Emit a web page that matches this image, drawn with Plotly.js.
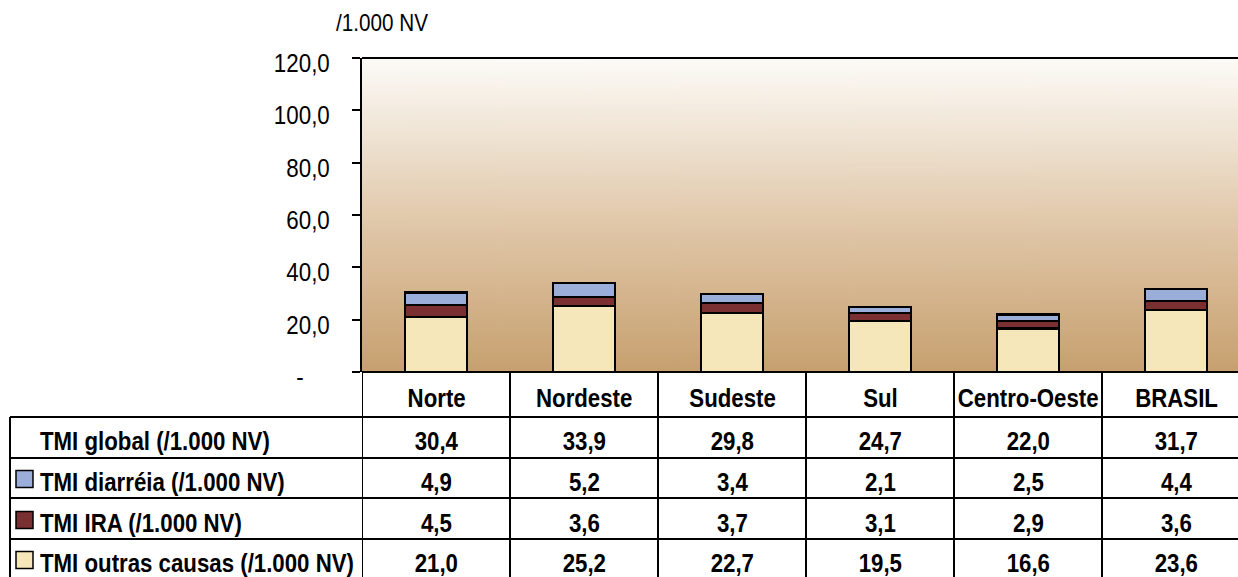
<!DOCTYPE html>
<html><head><meta charset="utf-8">
<script src="https://cdn.plot.ly/plotly-3.0.1.min.js"></script>
<style>html,body{margin:0;padding:0;overflow:hidden;background:#fff}</style>
</head><body><div id="chart" style="width:1250px;height:577px"></div>
<script>
const categories = ['Norte','Nordeste','Sudeste','Sul','Centro-Oeste','BRASIL'];
const tmiGlobal = [30.4, 33.9, 29.8, 24.7, 22.0, 31.7];
const tmiDiarreia = [4.9, 5.2, 3.4, 2.1, 2.5, 4.4];
const tmiIRA = [4.5, 3.6, 3.7, 3.1, 2.9, 3.6];
const tmiOutras = [21.0, 25.2, 22.7, 19.5, 16.6, 23.6];
const globalName = 'TMI global (/1.000 NV)';
const diarreiaName = 'TMI diarréia (/1.000 NV)';
const iraName = 'TMI IRA (/1.000 NV)';
const outrasName = 'TMI outras causas (/1.000 NV)';
const yTickVals = [0, 20, 40, 60, 80, 100, 120];
const yTickText = ['-', '20,0', '40,0', '60,0', '80,0', '100,0', '120,0'];
const unitLabel = '/1.000 NV';

const colDiarreia = '#9aaed9';
const colIRA = '#7a2f30';
const colOutras = '#f6e7bb';

const W = 1250, H = 577, ML = 362, MT = 58, MB = 205;
const PW = W - ML, PH = H - MT - MB;
const xp = px => (px - ML) / PW;
const yp = py => (MT + PH - py) / PH;

// gradient background image
const cv = document.createElement('canvas');
cv.width = 10; cv.height = 300;
const ctx = cv.getContext('2d');
const g = ctx.createLinearGradient(0, 0, 0, 300);
g.addColorStop(0, '#fdfbf8');
g.addColorStop(0.25, '#efe3d3');
g.addColorStop(0.5, '#e2caad');
g.addColorStop(0.75, '#d5b58e');
g.addColorStop(1, '#c6a06f');
ctx.fillStyle = g; ctx.fillRect(0, 0, 10, 300);
const bgURL = cv.toDataURL();

const idx = categories.map((c, i) => i);
const fmt = v => v.toFixed(1).replace('.', ',');
const FONT = 'Liberation Sans, Arial, sans-serif';
const TF = {family: FONT, size: 25, color: '#000', weight: 'bold'};

function barTrace(vals, name, color) {
  return {type: 'bar', x: idx, y: vals, name: name,
    marker: {color: color, line: {color: '#000', width: 2.2}},
    hoverinfo: 'skip'};
}
const traces = [
  barTrace(tmiOutras, outrasName, colOutras),
  barTrace(tmiIRA, iraName, colIRA),
  barTrace(tmiDiarreia, diarreiaName, colDiarreia)
];

const rowTops = [417, 458, 498, 539];
const rowText = [441, 482, 523, 563];
const rowNames = [globalName, diarreiaName, iraName, outrasName];
const rowVals = [tmiGlobal, tmiDiarreia, tmiIRA, tmiOutras];
const rowBoxes = [null, colDiarreia, colIRA, colOutras];

const shapes = [];
const ln = {color: '#000', width: 2};
shapes.push({type: 'line', xref: 'paper', yref: 'paper', x0: 0, x1: 1, y0: 1, y1: 1, line: ln});
shapes.push({type: 'line', xref: 'paper', yref: 'paper', x0: 0, x1: 1, y0: 0, y1: 0, line: ln});
for (let i = 0; i <= categories.length; i++) {
  shapes.push({type: 'line', xref: 'x', yref: 'paper', x0: i - 0.5, x1: i - 0.5, y0: 0, y1: yp(580), line: ln});
}
shapes.push({type: 'line', xref: 'paper', yref: 'paper', x0: xp(10), x1: xp(10), y0: yp(417), y1: yp(580), line: ln});
rowTops.forEach(t => {
  shapes.push({type: 'line', xref: 'paper', yref: 'paper', x0: xp(10), x1: 1, y0: yp(t), y1: yp(t), line: ln});
});
rowBoxes.forEach((c, r) => {
  if (!c) return;
  const cy = rowText[r] - 3;
  shapes.push({type: 'rect', xref: 'paper', yref: 'paper', x0: xp(16), x1: xp(33), y0: yp(cy - 8.5), y1: yp(cy + 8.5),
    fillcolor: c, line: {color: '#000', width: 1.5}});
});

const annotations = [];
categories.forEach((c, i) => {
  annotations.push({xref: 'x', yref: 'paper', x: i, y: yp(398), text: c, showarrow: false,
    xanchor: 'center', yanchor: 'middle', font: TF});
});
rowNames.forEach((n, r) => {
  annotations.push({xref: 'paper', yref: 'paper', x: xp(38), y: yp(rowText[r]), text: n, showarrow: false,
    xanchor: 'left', yanchor: 'middle', align: 'left', font: TF});
  rowVals[r].forEach((v, i) => {
    annotations.push({xref: 'x', yref: 'paper', x: i, y: yp(rowText[r]), text: fmt(v), showarrow: false,
      xanchor: 'center', yanchor: 'middle', font: TF});
  });
});
annotations.push({xref: 'paper', yref: 'paper', x: xp(334), y: yp(23), text: unitLabel, showarrow: false,
  xanchor: 'left', yanchor: 'middle', align: 'left', font: {family: FONT, size: 23.5, color: '#000'}});

const layout = {
  width: W, height: H,
  margin: {l: ML, r: 0, t: MT, b: MB, pad: 0},
  paper_bgcolor: '#fff', plot_bgcolor: 'rgba(0,0,0,0)',
  barmode: 'stack', bargap: 0.585, showlegend: false,
  xaxis: {range: [-0.5, categories.length - 0.5], showticklabels: false, showgrid: false, zeroline: false,
    showline: false, ticks: '', fixedrange: true},
  yaxis: {range: [0, 120], tickvals: yTickVals, ticktext: yTickText, ticks: 'outside', ticklen: 8,
    tickwidth: 2, tickcolor: '#000', showline: true, linewidth: 2, linecolor: '#000', showgrid: false,
    zeroline: false, fixedrange: true, ticklabelstandoff: 17,
    tickfont: {family: FONT, size: 26, color: '#000'}},
  images: [{source: bgURL, xref: 'paper', yref: 'paper', x: 0, y: 1, sizex: 1, sizey: 1,
    sizing: 'stretch', xanchor: 'left', yanchor: 'top', layer: 'below'}],
  shapes: shapes,
  annotations: annotations
};

// horizontally condense text to match the narrow typeface of the original
function condense(el, f, mode, dx, dy) {
  const bb = el.getBBox();
  const ax = mode === 'middle' ? bb.x + bb.width / 2 : (mode === 'end' ? bb.x + bb.width : bb.x);
  const t = el.getAttribute('transform') || '';
  el.setAttribute('transform', t + ` translate(${ax + (dx || 0)},${dy || 0}) scale(${f},1) translate(${-ax},0)`);
}
const leftTexts = rowNames.concat([unitLabel]);
Plotly.newPlot('chart', traces, layout, {displayModeBar: false, staticPlot: true}).then(gd => {
  gd.querySelectorAll('.annotation-text').forEach(el => {
    const txt = el.textContent;
    const isLeft = leftTexts.indexOf(txt) >= 0;
    condense(el, txt === unitLabel ? 0.88 : 0.89, isLeft ? 'start' : 'middle');
  });
  gd.querySelectorAll('.ytick text').forEach(el => {
    condense(el, 0.86, 'end', el.textContent === yTickText[0] ? -26 : 0, 5);
  });
});
</script></body></html>
